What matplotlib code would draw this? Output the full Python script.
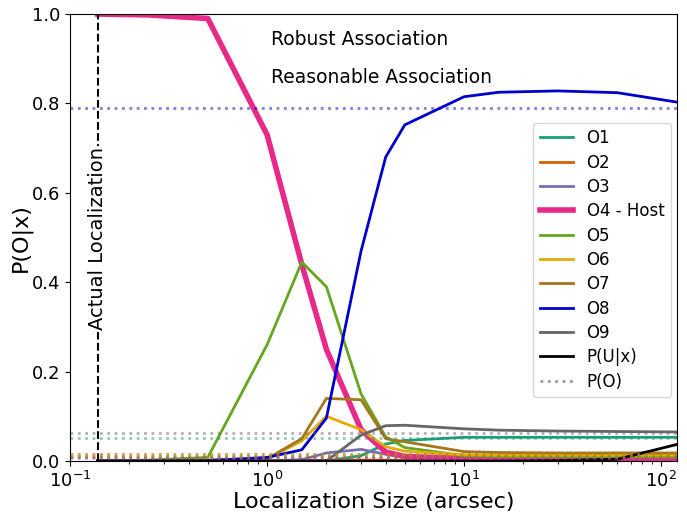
import matplotlib
matplotlib.use('Agg')
import matplotlib.pyplot as plt

# localization sizes (arcsec)
sizes = [0.138, 0.25, 0.5, 1, 1.5, 2, 3, 4, 5, 10, 15, 30, 60, 120]
actual_loc = 0.138

labels = ['O1', 'O2', 'O3', 'O4 - Host', 'O5', 'O6', 'O7', 'O8', 'O9']
colors = ['#1b9e77', '#d95f02', '#7570b3', '#e7298a', '#66a61e',
          '#e6ab02', '#a6761d', '#0000cc', '#666666']

p_o1 = [0, 0, 0, 0, 0, 0, 0.012, 0.038, 0.046, 0.053, 0.053, 0.053, 0.053, 0.053]
p_o2 = [0, 0, 0, 0, 0.001, 0.001, 0.002, 0.002, 0.001, 0.001, 0.001, 0.001, 0.001, 0.001]
p_o3 = [0, 0, 0, 0, 0.003, 0.018, 0.026, 0.015, 0.008, 0.002, 0.001, 0.001, 0.001, 0.001]
p_o4 = [1.0, 0.998, 0.99, 0.73, 0.44, 0.25, 0.07, 0.02, 0.01, 0.006, 0.005, 0.005, 0.005, 0.005]
p_o5 = [0, 0.002, 0.008, 0.26, 0.445, 0.39, 0.15, 0.054, 0.03, 0.012, 0.01, 0.009, 0.009, 0.009]
p_o6 = [0, 0, 0.002, 0.004, 0.045, 0.1, 0.07, 0.032, 0.022, 0.014, 0.013, 0.013, 0.013, 0.013]
p_o7 = [0, 0, 0.002, 0.005, 0.05, 0.14, 0.137, 0.05, 0.043, 0.021, 0.019, 0.018, 0.018, 0.018]
p_o8 = [0, 0, 0.001, 0.008, 0.025, 0.096, 0.47, 0.68, 0.752, 0.815, 0.825, 0.828, 0.824, 0.803]
p_o9 = [0, 0, 0, 0, 0, 0, 0.058, 0.079, 0.08, 0.072, 0.069, 0.067, 0.066, 0.065]
p_unseen = [0, 0, 0, 0, 0, 0, 0, 0, 0, 0, 0, 0.001, 0.004, 0.037]

priors = [0.052, 0.008, 0.006, 0.008, 0.012, 0.015, 0.016, 0.79, 0.063]

posteriors = [p_o1, p_o2, p_o3, p_o4, p_o5, p_o6, p_o7, p_o8, p_o9]

fig = plt.figure(figsize=(6.87, 5.12), dpi=100)
ax = fig.add_axes([0.102, 0.0996, 0.883, 0.873])

for post, lab, col in zip(posteriors, labels, colors):
    lw = 4 if 'Host' in lab else 2
    ax.plot(sizes, post, color=col, lw=lw, label=lab)

ax.plot(sizes, p_unseen, color='k', lw=2, label='P(U|x)')

# priors
for pr, col in zip(priors, colors):
    ax.axhline(pr, color=col, ls=':', lw=2, alpha=0.5)
ax.plot([], [], color='gray', ls=':', lw=2, alpha=0.8, label='P(O)')

ax.axvline(actual_loc, color='k', ls='--', lw=1.5)
ax.text(actual_loc, 0.497, 'Actual Localization', rotation=90, ha='center', va='center',
        fontsize=14, bbox=dict(facecolor='white', edgecolor='none', pad=1))

ax.text(1.05, 0.942, 'Robust Association', fontsize=13.5, va='center')
ax.text(1.05, 0.857, 'Reasonable Association', fontsize=13.5, va='center')

ax.set_xscale('log')
ax.set_xlim(0.1, 120)
ax.set_ylim(0, 1.0)
ax.set_xlabel('Localization Size (arcsec)', fontsize=16, labelpad=1)
ax.set_ylabel('P(O|x)', fontsize=16, labelpad=0)
ax.tick_params(labelsize=13)
ax.legend(loc='center right', fontsize=12, labelspacing=0.38,
          borderaxespad=0.2, bbox_to_anchor=(0.996, 0.45))

fig.savefig('out.png')
